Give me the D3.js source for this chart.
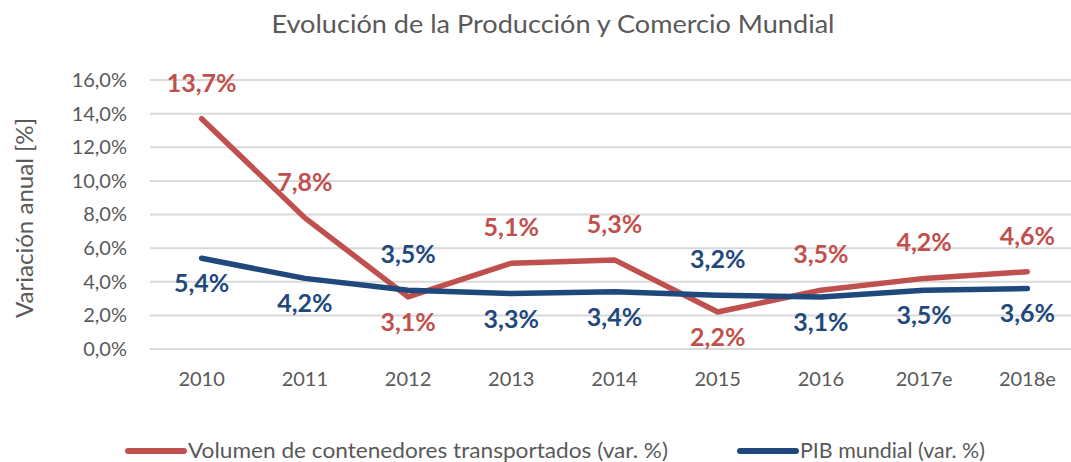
<!DOCTYPE html>
<html>
<head>
<meta charset="utf-8">
<script src="https://cdn.jsdelivr.net/npm/d3@7"></script>
<style>
  body { margin: 0; background: #fff; }
  svg { font-family: Lato, "Open Sans", sans-serif; }
</style>
</head>
<body>
<div id="chart"></div>
<script>
const years = ["2010", "2011", "2012", "2013", "2014", "2015", "2016", "2017e", "2018e"];
const contenedores = [13.7, 7.8, 3.1, 5.1, 5.3, 2.2, 3.5, 4.2, 4.6];
const pib = [5.4, 4.2, 3.5, 3.3, 3.4, 3.2, 3.1, 3.5, 3.6];
// where each value label sits relative to its point
const posContenedores = ["above", "above", "below", "above", "above", "below", "above", "above", "above"];
const posPib = ["below", "below", "above", "below", "below", "above", "below", "below", "below"];
const yTicks = [0, 2, 4, 6, 8, 10, 12, 14, 16];

const width = 1071, height = 462;
const fmt = v => v.toFixed(1).replace(".", ",") + "%";
const grey = "#595959";

const svg = d3.select("#chart").append("svg")
  .attr("width", width)
  .attr("height", height);

const x = d3.scaleBand()
  .domain(years)
  .range([150, 1079]);

const y = d3.scaleLinear()
  .domain([0, 16])
  .range([349, 80]);

// Title
svg.append("text")
  .attr("x", 553)
  .attr("y", 33)
  .attr("text-anchor", "middle")
  .attr("textLength", 563)
  .attr("lengthAdjust", "spacingAndGlyphs")
  .style("font-size", "25px")
  .style("fill", grey)
  .text("Evolución de la Producción y Comercio Mundial");

// Gridlines
svg.append("g")
  .selectAll("line")
  .data(yTicks)
  .enter().append("line")
  .attr("x1", 150)
  .attr("x2", 1079)
  .attr("y1", d => y(d))
  .attr("y2", d => y(d))
  .style("stroke", "#d9d9d9")
  .style("stroke-width", 2);

// Y axis
const yAxis = svg.append("g")
  .attr("transform", "translate(150,0)")
  .call(d3.axisLeft(y).tickValues(yTicks).tickFormat(fmt).tickSize(0).tickPadding(23));
yAxis.select(".domain").remove();
yAxis.selectAll("text")
  .style("font-size", "20px")
  .style("font-family", "Lato, 'Open Sans', sans-serif")
  .style("fill", grey);

svg.append("text")
  .attr("transform", "rotate(-90)")
  .attr("x", -218)
  .attr("y", 33)
  .attr("text-anchor", "middle")
  .attr("textLength", 200)
  .attr("lengthAdjust", "spacingAndGlyphs")
  .style("font-size", "23px")
  .style("fill", grey)
  .text("Variación anual [%]");

// X axis
const xAxis = svg.append("g")
  .attr("transform", "translate(0,349)")
  .call(d3.axisBottom(x).tickSize(0).tickPadding(23));
xAxis.select(".domain").remove();
xAxis.selectAll("text")
  .style("font-size", "20px")
  .style("font-family", "Lato, 'Open Sans', sans-serif")
  .style("fill", grey);

const cx = d => x(d) + x.bandwidth() / 2;

const series = [
  { name: "Volumen de contenedores transportados (var. %)", values: contenedores, pos: posContenedores, color: "#C0504D" },
  { name: "PIB mundial (var. %)", values: pib, pos: posPib, color: "#1F497D" }
];

const line = d3.line()
  .x(d => cx(d.year))
  .y(d => y(d.value));

series.forEach(s => {
  const pts = years.map((yr, i) => ({ year: yr, value: s.values[i], pos: s.pos[i] }));

  svg.append("path")
    .datum(pts)
    .attr("d", line)
    .style("fill", "none")
    .style("stroke", s.color)
    .style("stroke-width", 5.5)
    .style("stroke-linejoin", "round")
    .style("stroke-linecap", "round");

  svg.append("g")
    .selectAll("text")
    .data(pts)
    .enter().append("text")
    .attr("x", d => cx(d.year))
    .attr("y", d => y(d.value) + (d.pos === "above" ? -27 : 34))
    .attr("text-anchor", "middle")
    .style("font-size", "25px")
    .style("font-weight", "bold")
    .style("fill", s.color)
    .text(d => fmt(d.value));
});

// Legend
const legend = [
  { label: series[0].name, color: series[0].color, x: 128, w: 480 },
  { label: series[1].name, color: series[1].color, x: 740, w: 185 }
];
const lg = svg.append("g")
  .selectAll("g")
  .data(legend)
  .enter().append("g")
  .attr("transform", d => `translate(${d.x},451)`);
lg.append("line")
  .attr("x1", 0).attr("x2", 56)
  .attr("y1", 0).attr("y2", 0)
  .style("stroke", d => d.color)
  .style("stroke-width", 6)
  .style("stroke-linecap", "round");
lg.append("text")
  .attr("x", 60)
  .attr("y", 7)
  .attr("textLength", d => d.w)
  .attr("lengthAdjust", "spacingAndGlyphs")
  .style("font-size", "21px")
  .style("fill", grey)
  .text(d => d.label);
</script>
</body>
</html>
